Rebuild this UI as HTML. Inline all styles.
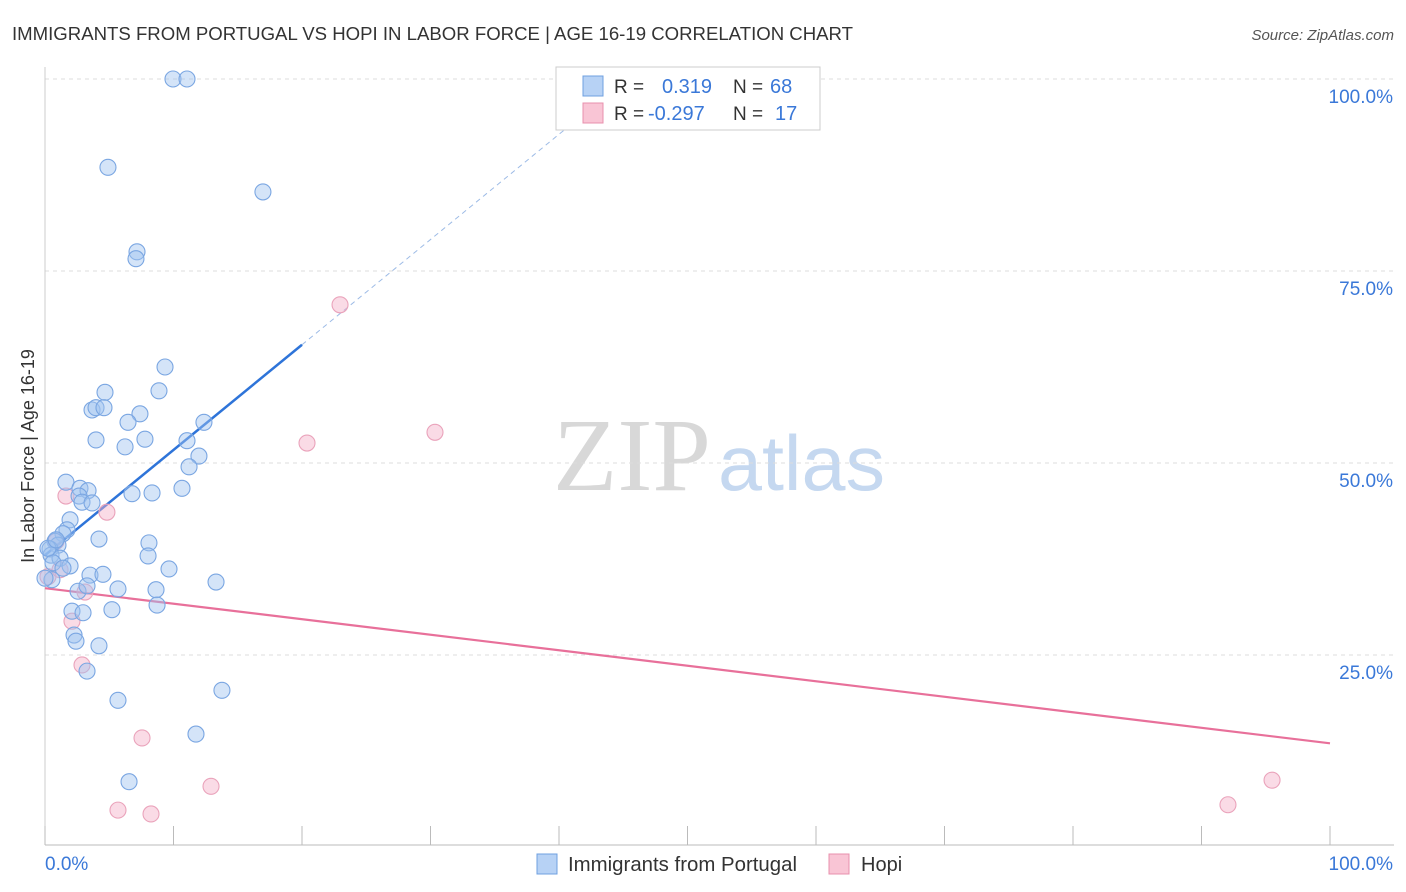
<!DOCTYPE html>
<html><head><meta charset="utf-8">
<style>
body{margin:0;background:#fff;font-family:"Liberation Sans",sans-serif;}
svg{display:block}
</style></head>
<body>
<svg id="chart" width="1406" height="892" xmlns="http://www.w3.org/2000/svg">
<text x="12" y="40" font-size="18" fill="#333" textLength="841" lengthAdjust="spacingAndGlyphs">IMMIGRANTS FROM PORTUGAL VS HOPI IN LABOR FORCE | AGE 16-19 CORRELATION CHART</text>
<text x="1394" y="40" font-size="15" fill="#555" font-style="italic" text-anchor="end">Source: ZipAtlas.com</text>
<g>
<text x="553" y="490" font-size="104" font-family="Liberation Serif,serif" fill="#d8d8d8" textLength="158" lengthAdjust="spacingAndGlyphs">ZIP</text>
<text x="718" y="490" font-size="78" fill="#c5d8f0" textLength="167" lengthAdjust="spacingAndGlyphs">atlas</text>
</g>
<g id="grid"></g>
<g id="axes"></g>
<text transform="translate(34,456) rotate(-90)" font-size="18" fill="#333" text-anchor="middle">In Labor Force | Age 16-19</text>
<g id="trends"></g>
<g id="points"></g>
<g>
<rect x="556" y="67" width="264" height="63" fill="#fff" stroke="#ccc"/>
<rect x="583" y="76" width="20" height="20" fill="#b7d2f5" stroke="#6fa0e0"/>
<rect x="583" y="103" width="20" height="20" fill="#f9c5d5" stroke="#e890ad"/>
<text x="614" y="93" font-size="19" fill="#333">R =</text>
<text x="662" y="93" font-size="20" fill="#3a78d8">0.319</text>
<text x="733" y="93" font-size="19" fill="#333">N =</text>
<text x="770" y="93" font-size="20" fill="#3a78d8">68</text>
<text x="614" y="120" font-size="19" fill="#333">R =</text>
<text x="648" y="120" font-size="20" fill="#3a78d8">-0.297</text>
<text x="733" y="120" font-size="19" fill="#333">N =</text>
<text x="775" y="120" font-size="20" fill="#3a78d8">17</text>
</g>
<g>
<rect x="537" y="854" width="20" height="20" fill="#b7d2f5" stroke="#6fa0e0"/>
<text x="568" y="871" font-size="20" fill="#333" textLength="229" lengthAdjust="spacingAndGlyphs">Immigrants from Portugal</text>
<rect x="829" y="854" width="20" height="20" fill="#f9c5d5" stroke="#e890ad"/>
<text x="861" y="871" font-size="20" fill="#333">Hopi</text>
</g>
</svg>
<script>
const blueX=[9.96,11.05,4.9,16.96,7.16,7.08,9.34,4.67,8.87,3.66,3.97,4.59,7.39,6.46,12.37,3.97,7.78,6.23,11.05,11.98,11.21,1.63,10.66,2.72,3.35,2.65,6.77,8.33,2.88,3.66,1.95,1.71,1.4,4.2,0.78,1.01,0.39,0.47,1.17,8.09,8.02,0.62,1.95,1.4,9.65,3.5,4.51,0.54,5.68,2.57,3.27,8.64,13.31,8.72,2.1,2.96,5.21,2.26,2.41,4.2,3.27,13.77,5.68,11.75,6.54,0,0.23,0.86];
const blueY=[100,100,88.5,85.3,77.5,76.6,62.5,59.2,59.4,56.9,57.2,57.2,56.4,55.3,55.3,53.0,53.1,52.1,52.9,50.9,49.5,47.5,46.7,46.7,46.4,45.7,46.0,46.1,44.9,44.8,42.6,41.3,40.8,40.1,39.8,39.3,38.8,38.0,37.6,39.6,37.9,37.0,36.6,36.3,36.2,35.4,35.5,34.8,33.6,33.3,34.0,33.5,34.5,31.5,30.7,30.5,30.9,27.6,26.8,26.2,22.9,20.4,19.1,14.7,8.5,35.0,38.9,40.0];
const pinkX=[22.96,20.39,30.35,1.63,4.82,0.86,0.23,3.11,2.1,2.88,7.55,5.68,8.25,12.92,92.06,95.49,1.17];
const pinkY=[70.6,52.6,54.0,45.7,43.6,39.8,35.2,33.2,29.4,23.7,14.2,4.8,4.3,7.9,5.5,8.7,36.1];
const yTicks=[25,50,75,100];
const xTicks=[0,10,20,30,40,50,60,70,80,90,100];
const blueTrend=[38,1.37]; // intercept, slope
const pinkTrend=[33.7,-0.202];

const NS="http://www.w3.org/2000/svg";
const sx=v=>45+v*12.85, sy=v=>847-v*7.68;
function mk(tag,attrs,parent){const e=document.createElementNS(NS,tag);for(const k in attrs)e.setAttribute(k,attrs[k]);parent.appendChild(e);return e;}
const grid=document.getElementById('grid'),axes=document.getElementById('axes');
yTicks.forEach(t=>{
 const l=mk('line',{x1:45,x2:1394,y1:sy(t),y2:sy(t),stroke:'#ddd','stroke-dasharray':'4,4'},grid);
 
 
 const tx=mk('text',{x:1393,y:sy(t)+24,'font-size':19,fill:'#3a78d8','text-anchor':'end'},axes);
 tx.textContent=t.toFixed(1)+'%';
 
 
});
const ax=mk('line',{x1:45,x2:1394,y1:845,y2:845,stroke:'#bbb'},axes);


const ay=mk('line',{x1:45,x2:45,y1:67,y2:845,stroke:'#ccc'},axes);


xTicks.forEach(t=>{
 const l=mk('line',{x1:sx(t),x2:sx(t),y1:826,y2:845,stroke:'#bbb'},axes);
 
 
});
[[0,'0.0%','start',45],[100,'100.0%','end',1393]].forEach(a=>{
 const tx=mk('text',{x:a[3],y:870,'font-size':19,fill:'#3a78d8','text-anchor':a[2]},axes);
 tx.textContent=a[1];
 
 
});
const tr=document.getElementById('trends');
const b1=mk('line',{x1:sx(0),y1:sy(blueTrend[0]),x2:sx(20),y2:sy(blueTrend[0]+20*blueTrend[1]),stroke:'#2e74d9','stroke-width':2.5},tr);


const b2=mk('line',{x1:sx(20),y1:sy(blueTrend[0]+20*blueTrend[1]),x2:sx(41),y2:sy(blueTrend[0]+41*blueTrend[1]),stroke:'#9dbbe6','stroke-width':1,'stroke-dasharray':'5,4'},tr);


const p1=mk('line',{x1:sx(0),y1:sy(pinkTrend[0]),x2:sx(100),y2:sy(pinkTrend[0]+100*pinkTrend[1]),stroke:'#e8709a','stroke-width':2.2},tr);


const pts=document.getElementById('points');
pinkX.forEach((x,i)=>{
 const c=mk('circle',{cx:sx(x),cy:sy(pinkY[i]),r:8,fill:'rgba(245,175,200,0.45)',stroke:'#eaa3bb','stroke-width':1.1},pts);
 
 
});
blueX.forEach((x,i)=>{
 const c=mk('circle',{cx:sx(x),cy:sy(blueY[i]),r:8,fill:'rgba(160,195,240,0.45)',stroke:'#7aa6e2','stroke-width':1.1},pts);
 
 
});
</script>
</body></html>
